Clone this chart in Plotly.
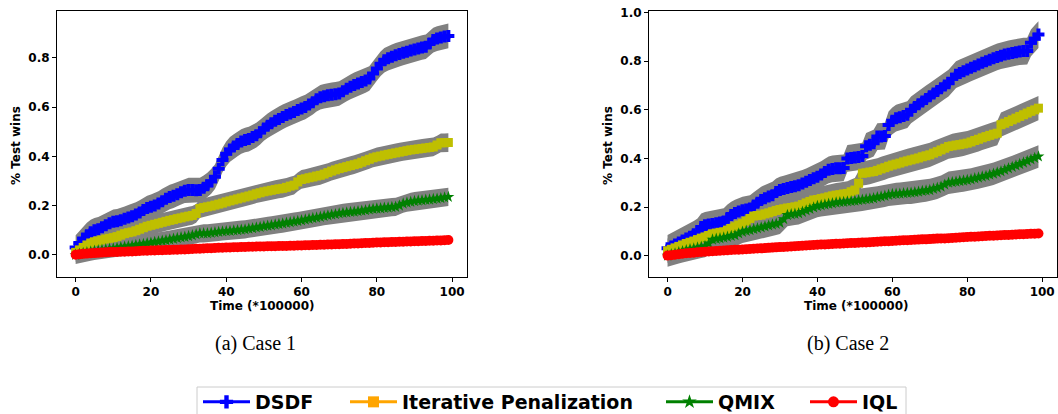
import plotly.graph_objects as go

# ---------------- data ----------------
steps = list(range(100))  # Time (*100000)

names = ["DSDF", "Iterative Penalization", "QMIX", "IQL"]

case1_dsdf = [0.030, 0.048, 0.066, 0.080, 0.092, 0.100, 0.104, 0.112, 0.120, 0.128,
              0.134, 0.136, 0.140, 0.146, 0.152, 0.157, 0.164, 0.172, 0.182, 0.190,
              0.195, 0.200, 0.208, 0.218, 0.228, 0.235, 0.240, 0.246, 0.254, 0.260,
              0.263, 0.263, 0.262, 0.263, 0.272, 0.283, 0.298, 0.317, 0.350, 0.385,
              0.410, 0.428, 0.440, 0.450, 0.460, 0.466, 0.470, 0.478, 0.486, 0.498,
              0.513, 0.524, 0.534, 0.544, 0.552, 0.560, 0.568, 0.574, 0.580, 0.588,
              0.594, 0.600, 0.610, 0.620, 0.632, 0.640, 0.644, 0.648, 0.650, 0.652,
              0.655, 0.664, 0.674, 0.682, 0.690, 0.696, 0.702, 0.708, 0.716, 0.736,
              0.757, 0.776, 0.790, 0.798, 0.804, 0.810, 0.815, 0.820, 0.825, 0.830,
              0.834, 0.838, 0.842, 0.845, 0.858, 0.872, 0.878, 0.882, 0.886, 0.889]
case1_ip = [0.010, 0.020, 0.030, 0.040, 0.048, 0.053, 0.056, 0.060, 0.064, 0.067,
            0.070, 0.074, 0.080, 0.086, 0.090, 0.093, 0.098, 0.104, 0.110, 0.116,
            0.120, 0.124, 0.128, 0.132, 0.136, 0.140, 0.143, 0.147, 0.150, 0.154,
            0.157, 0.160, 0.168, 0.188, 0.192, 0.195, 0.198, 0.202, 0.206, 0.210,
            0.215, 0.219, 0.223, 0.227, 0.231, 0.235, 0.239, 0.243, 0.248, 0.252,
            0.256, 0.259, 0.262, 0.265, 0.268, 0.270, 0.274, 0.279, 0.283, 0.296,
            0.306, 0.309, 0.313, 0.316, 0.320, 0.323, 0.328, 0.334, 0.340, 0.345,
            0.350, 0.354, 0.358, 0.362, 0.366, 0.370, 0.376, 0.382, 0.388, 0.394,
            0.398, 0.401, 0.405, 0.408, 0.411, 0.414, 0.417, 0.420, 0.423, 0.426,
            0.428, 0.430, 0.432, 0.434, 0.436, 0.438, 0.446, 0.455, 0.455, 0.456]
case1_qmix = [0.000, 0.004, 0.007, 0.010, 0.013, 0.016, 0.018, 0.020, 0.022, 0.024,
              0.026, 0.028, 0.031, 0.033, 0.035, 0.037, 0.040, 0.042, 0.044, 0.047,
              0.049, 0.052, 0.054, 0.057, 0.059, 0.062, 0.065, 0.068, 0.071, 0.073,
              0.076, 0.079, 0.083, 0.087, 0.087, 0.087, 0.089, 0.091, 0.093, 0.095,
              0.096, 0.097, 0.099, 0.100, 0.102, 0.103, 0.106, 0.108, 0.111, 0.113,
              0.116, 0.118, 0.120, 0.123, 0.125, 0.127, 0.130, 0.132, 0.135, 0.137,
              0.140, 0.143, 0.146, 0.149, 0.151, 0.154, 0.157, 0.160, 0.163, 0.165,
              0.168, 0.170, 0.172, 0.174, 0.175, 0.177, 0.179, 0.181, 0.184, 0.186,
              0.188, 0.189, 0.191, 0.192, 0.194, 0.195, 0.200, 0.208, 0.212, 0.215,
              0.218, 0.220, 0.221, 0.223, 0.224, 0.226, 0.228, 0.230, 0.233, 0.235]
case1_iql = [0.000, 0.002, 0.004, 0.005, 0.006, 0.007, 0.008, 0.009, 0.010, 0.011,
             0.012, 0.012, 0.013, 0.013, 0.014, 0.014, 0.015, 0.016, 0.017, 0.017,
             0.018, 0.018, 0.019, 0.019, 0.020, 0.020, 0.021, 0.021, 0.022, 0.022,
             0.023, 0.024, 0.025, 0.025, 0.026, 0.027, 0.027, 0.028, 0.029, 0.029,
             0.030, 0.030, 0.031, 0.031, 0.032, 0.032, 0.033, 0.033, 0.034, 0.034,
             0.034, 0.035, 0.035, 0.035, 0.036, 0.036, 0.036, 0.037, 0.037, 0.038,
             0.038, 0.039, 0.039, 0.040, 0.040, 0.041, 0.041, 0.042, 0.042, 0.043,
             0.043, 0.044, 0.044, 0.045, 0.046, 0.046, 0.047, 0.048, 0.048, 0.049,
             0.050, 0.050, 0.051, 0.051, 0.052, 0.052, 0.053, 0.053, 0.054, 0.054,
             0.055, 0.055, 0.056, 0.056, 0.057, 0.057, 0.058, 0.058, 0.059, 0.060]
case1_std = [0.050, 0.038, 0.037, 0.012]

case2_dsdf = [0.030, 0.038, 0.046, 0.054, 0.062, 0.070, 0.078, 0.088, 0.098, 0.118,
              0.125, 0.128, 0.130, 0.133, 0.136, 0.140, 0.155, 0.167, 0.175, 0.182,
              0.187, 0.190, 0.194, 0.206, 0.218, 0.229, 0.236, 0.243, 0.249, 0.262,
              0.270, 0.274, 0.278, 0.282, 0.286, 0.290, 0.297, 0.304, 0.311, 0.318,
              0.325, 0.334, 0.344, 0.353, 0.357, 0.360, 0.360, 0.361, 0.400, 0.402,
              0.404, 0.406, 0.410, 0.450, 0.456, 0.463, 0.490, 0.490, 0.492, 0.538,
              0.555, 0.566, 0.570, 0.575, 0.580, 0.600, 0.612, 0.623, 0.634, 0.645,
              0.656, 0.667, 0.678, 0.689, 0.700, 0.710, 0.728, 0.745, 0.752, 0.759,
              0.766, 0.773, 0.780, 0.787, 0.794, 0.800, 0.806, 0.812, 0.818, 0.823,
              0.828, 0.831, 0.834, 0.837, 0.840, 0.842, 0.842, 0.876, 0.893, 0.910]
case2_ip = [0.020, 0.026, 0.032, 0.038, 0.044, 0.050, 0.055, 0.060, 0.066, 0.072,
            0.077, 0.083, 0.090, 0.093, 0.096, 0.098, 0.105, 0.112, 0.119, 0.126,
            0.132, 0.142, 0.153, 0.163, 0.165, 0.167, 0.172, 0.176, 0.181, 0.186,
            0.190, 0.193, 0.196, 0.198, 0.201, 0.204, 0.210, 0.217, 0.223, 0.229,
            0.231, 0.235, 0.238, 0.242, 0.246, 0.249, 0.251, 0.254, 0.256, 0.263,
            0.270, 0.298, 0.339, 0.341, 0.344, 0.346, 0.351, 0.357, 0.362, 0.368,
            0.373, 0.377, 0.381, 0.386, 0.390, 0.394, 0.398, 0.402, 0.407, 0.411,
            0.415, 0.422, 0.428, 0.435, 0.442, 0.449, 0.452, 0.455, 0.457, 0.460,
            0.463, 0.468, 0.474, 0.479, 0.485, 0.490, 0.495, 0.500, 0.504, 0.539,
            0.545, 0.552, 0.559, 0.566, 0.573, 0.580, 0.587, 0.594, 0.600, 0.607]
case2_qmix = [0.000, 0.005, 0.009, 0.014, 0.018, 0.022, 0.026, 0.029, 0.033, 0.036,
              0.039, 0.050, 0.066, 0.069, 0.071, 0.074, 0.077, 0.081, 0.084, 0.091,
              0.098, 0.102, 0.105, 0.109, 0.112, 0.116, 0.120, 0.124, 0.128, 0.131,
              0.135, 0.150, 0.167, 0.170, 0.172, 0.174, 0.180, 0.186, 0.192, 0.198,
              0.204, 0.207, 0.210, 0.213, 0.215, 0.218, 0.220, 0.221, 0.223, 0.224,
              0.226, 0.228, 0.230, 0.232, 0.234, 0.236, 0.240, 0.243, 0.246, 0.250,
              0.253, 0.254, 0.255, 0.257, 0.258, 0.259, 0.261, 0.263, 0.266, 0.268,
              0.270, 0.275, 0.279, 0.284, 0.292, 0.300, 0.302, 0.304, 0.307, 0.309,
              0.311, 0.314, 0.318, 0.321, 0.325, 0.328, 0.333, 0.337, 0.342, 0.347,
              0.353, 0.359, 0.365, 0.371, 0.377, 0.383, 0.389, 0.396, 0.402, 0.408]
case2_iql = [0.000, 0.002, 0.004, 0.006, 0.008, 0.010, 0.011, 0.012, 0.014, 0.015,
             0.016, 0.017, 0.018, 0.019, 0.020, 0.021, 0.022, 0.023, 0.024, 0.024,
             0.025, 0.026, 0.027, 0.028, 0.029, 0.030, 0.031, 0.032, 0.033, 0.034,
             0.035, 0.036, 0.037, 0.038, 0.039, 0.040, 0.041, 0.042, 0.043, 0.044,
             0.045, 0.046, 0.046, 0.047, 0.048, 0.049, 0.049, 0.050, 0.051, 0.052,
             0.052, 0.053, 0.054, 0.054, 0.055, 0.056, 0.057, 0.058, 0.059, 0.059,
             0.060, 0.061, 0.062, 0.063, 0.063, 0.064, 0.065, 0.066, 0.067, 0.067,
             0.068, 0.069, 0.070, 0.071, 0.071, 0.072, 0.073, 0.074, 0.075, 0.076,
             0.077, 0.078, 0.078, 0.079, 0.080, 0.081, 0.082, 0.082, 0.083, 0.084,
             0.085, 0.085, 0.086, 0.087, 0.088, 0.088, 0.089, 0.090, 0.090, 0.091]
case2_std = [0.055, 0.050, 0.046, 0.012]

x_ticks = [0, 20, 40, 60, 80, 100]
case1_y_ticks = [0.0, 0.2, 0.4, 0.6, 0.8]
case2_y_ticks = [0.0, 0.2, 0.4, 0.6, 0.8, 1.0]
captions = ["(a) Case 1", "(b) Case 2"]

# ---------------- styles ----------------
W, H = 1058, 414
line_colors = ["#0000FF", "#BFBF00", "#008000", "#FF0000"]
legend_colors = ["#0000FF", "#FFA500", "#008000", "#FF0000"]
symbols = ["cross", "square", "star", "circle"]
msizes = [10, 9, 9, 10]
band_color = "#808080"
FONT = "DejaVu Sans"
legend_ids = ["legend", "legend2", "legend3", "legend4"]
legend_x_px = [198, 345, 661, 805]

fig = go.Figure()

cases = [
    ([case1_dsdf, case1_ip, case1_qmix, case1_iql], case1_std, "x", "y"),
    ([case2_dsdf, case2_ip, case2_qmix, case2_iql], case2_std, "x2", "y2"),
]

for series, stds, xa, ya in cases:
    # shaded bands first
    for vals, s in zip(series, stds):
        upper = [v + s for v in vals]
        lower = [v - s for v in vals]
        fig.add_trace(go.Scatter(
            x=steps + steps[::-1], y=upper + lower[::-1],
            fill="toself", fillcolor=band_color, mode="lines",
            line=dict(width=0, color=band_color), hoverinfo="skip",
            showlegend=False, xaxis=xa, yaxis=ya))
    for vals, c, sym, ms in zip(series, line_colors, symbols, msizes):
        fig.add_trace(go.Scatter(
            x=steps, y=vals, mode="lines+markers",
            line=dict(color=c, width=1.5),
            marker=dict(symbol=sym, size=ms, color=c, line=dict(width=0)),
            showlegend=False, xaxis=xa, yaxis=ya))

# legend-only traces (each in its own legend for matplotlib-like spacing)
legend_font = dict(family=FONT, size=19, color="black", weight="bold")
legend_layout = {}
for n, c, sym, lid, lx in zip(names, legend_colors, symbols, legend_ids, legend_x_px):
    fig.add_trace(go.Scatter(
        x=[None], y=[None], mode="lines+markers", name=n,
        line=dict(color=c, width=3),
        marker=dict(symbol=sym, size=11, color=c, line=dict(width=0)),
        legend=lid, xaxis="x", yaxis="y"))
    legend_layout[lid] = dict(orientation="h", xref="container", yref="container",
                              x=lx / W, y=1 - 402 / H, xanchor="left", yanchor="middle",
                              font=legend_font, borderwidth=0, bgcolor="rgba(0,0,0,0)",
                              itemwidth=47)

tickfont = dict(family=FONT, size=12, color="black", weight="bold")
common_x = dict(range=[-4.95, 103.95], tickvals=x_ticks, ticks="outside", ticklen=4,
                tickwidth=1, tickcolor="black", showline=True, mirror=True,
                linecolor="black", linewidth=1, showgrid=False, zeroline=False,
                tickfont=tickfont, automargin=False)
common_y = dict(ticks="outside", ticklen=4, tickwidth=1, tickcolor="black",
                showline=True, mirror=True, linecolor="black", linewidth=1,
                showgrid=False, zeroline=False, tickfont=tickfont, tickformat=".1f",
                automargin=False)

y_dom = [1 - 277 / H, 1 - 11 / H]
fig.update_layout(
    width=W, height=H,
    margin=dict(l=0, r=0, t=0, b=0, autoexpand=False),
    paper_bgcolor="white", plot_bgcolor="white",
    xaxis=dict(domain=[57 / W, 467 / W], anchor="y", **common_x),
    yaxis=dict(domain=y_dom, anchor="x", range=[-0.09, 0.99],
               tickvals=case1_y_ticks, **common_y),
    xaxis2=dict(domain=[649 / W, 1057 / W], anchor="y2", **common_x),
    yaxis2=dict(domain=y_dom, anchor="x2", range=[-0.088, 1.007],
                tickvals=case2_y_ticks, **common_y),
    showlegend=True,
    **legend_layout,
)

# legend frame
fig.add_shape(type="rect", xref="paper", yref="paper",
              x0=197 / W, x1=906 / W, y0=-0.05, y1=1 - 387 / H,
              line=dict(color="#cccccc", width=1), fillcolor="rgba(0,0,0,0)",
              layer="below")

title_font = dict(family=FONT, size=12, color="black", weight="bold")
annotations = []
for xc in [16, 608]:
    annotations.append(dict(text="% Test wins", x=xc / W, y=1 - 146 / H,
                            xref="paper", yref="paper", showarrow=False,
                            textangle=-90, font=title_font,
                            xanchor="center", yanchor="middle"))
for xc in [262, 856]:
    annotations.append(dict(text="Time (*100000)", x=xc / W, y=1 - 306 / H,
                            xref="paper", yref="paper", showarrow=False,
                            font=title_font, xanchor="center", yanchor="middle"))
for cap, xc in zip(captions, [255, 848]):
    annotations.append(dict(text=cap, x=xc / W, y=1 - 343 / H,
                            xref="paper", yref="paper", showarrow=False,
                            font=dict(family="Liberation Serif", size=20, color="black"),
                            xanchor="center", yanchor="middle"))
fig.update_layout(annotations=annotations)

fig.write_html("out.html")
